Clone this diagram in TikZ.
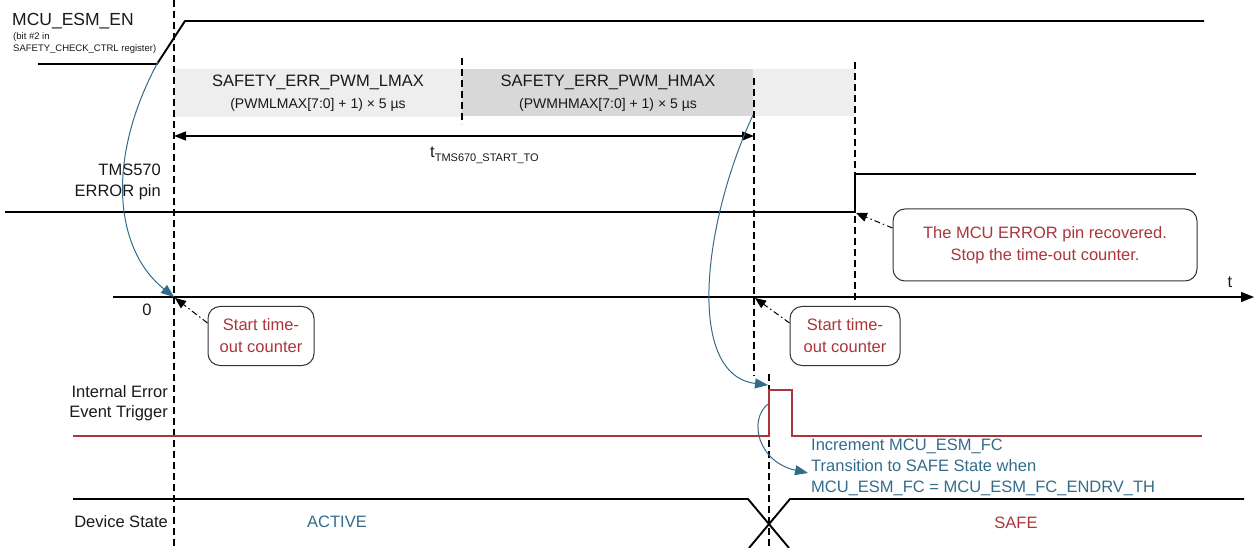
\documentclass[tikz,border=0pt]{standalone}
\usepackage{fontspec}
\setmainfont{Liberation Sans}
\usetikzlibrary{arrows.meta,calc}
\definecolor{tiblue}{RGB}{50,108,138}
\definecolor{tired}{RGB}{172,52,58}
\definecolor{lgray}{RGB}{238,238,238}
\definecolor{dgray}{RGB}{216,216,216}
\newcommand\myfs[2]{\fontsize{#1}{#2}\selectfont}
\begin{document}
\begin{tikzpicture}[x=1pt,y=-1pt,
  sig/.style={line width=1.9pt, black},
  redsig/.style={line width=1.9pt, tired},
  guide/.style={line width=1.3pt, dash pattern=on 7pt off 4pt},
  lbl/.style={inner sep=0pt, font=\myfs{16.5}{21}, text=black!90},
  callout/.style={draw=black!80, line width=1pt, rounded corners=12pt, text=tired, align=center, font=\myfs{16.5}{22}, inner sep=0pt},
  pointer/.style={line width=1pt, dash pattern=on 6pt off 3pt on 1.5pt off 3pt, -{Triangle[length=11pt,width=9pt]}},
  bluearrow/.style={tiblue, line width=1pt, -{Triangle[length=13pt,width=10pt]}},
]
\useasboundingbox (0,0) rectangle (1254,548);

% gray duration bands
\fill[lgray] (174,69) rectangle (462,117);
\fill[dgray] (462,69) rectangle (753,116);
\fill[lgray] (753,69) rectangle (855,116);

% dashed guides
\draw[guide] (174,0) -- (174,548);
\draw[guide] (462,58) -- (462,124);
\draw[guide] (754,78) -- (754,376);
\draw[guide] (769,374) -- (769,548);
\draw[guide] (855,62) -- (855,303);

% MCU_ESM_EN signal
\coordinate (en0) at (38,64);
\coordinate (enA) at (157,64);
\coordinate (enB) at (185,21);
\coordinate (en1) at (1204,21);
\draw[sig, line join=round] (en0) -- (enA) -- (enB) -- (en1);
\node[lbl, anchor=west, font=\myfs{17.5}{21}] (enlbl) at (12,21) {MCU\_ESM\_EN};
\node[lbl, anchor=north west, align=left, font=\myfs{9.5}{12}] (enreg) at (13,32) {(bit \#2 in\\SAFETY\_CHECK\_CTRL register)};

% band labels
\node[lbl, font=\myfs{16.5}{21}] (lmax) at (318,82) {SAFETY\_ERR\_PWM\_LMAX};
\node[lbl, font=\myfs{14}{17}] (lmaxf) at (318,105) {(PWMLMAX[7:0] + 1) × 5 µs};
\node[lbl, font=\myfs{16.5}{21}] (hmax) at (608,82) {SAFETY\_ERR\_PWM\_HMAX};
\node[lbl, font=\myfs{14}{17}] (hmaxf) at (608,105) {(PWMHMAX[7:0] + 1) × 5 µs};

% timeout span
\coordinate (spanL) at (174,136);
\coordinate (spanR) at (754,136);
\draw[line width=1.3pt, {Triangle[length=12pt,width=9pt]}-{Triangle[length=12pt,width=9pt]}] (spanL) -- (spanR);
\node[lbl, anchor=base west] (tto) at (430,158) {t\raisebox{-4pt}{\myfs{11}{12}TMS670\_START\_TO}};

% ERROR pin
\node[lbl, anchor=east, align=right] (errlbl) at (161,182) {TMS570\\ERROR pin};
\coordinate (er0) at (5,212);
\coordinate (erA) at (855,212);
\coordinate (erB) at (855,174);
\coordinate (er1) at (1196,174);
\draw[sig] (er0) -- (erA) -- (erB) -- (er1);

% time axis
\coordinate (ax0) at (113,297);
\coordinate (ax1) at (1254,297);
\coordinate (z0) at (174,297);
\draw[line width=1.3pt, -{Triangle[length=13pt,width=10pt]}] (ax0) -- (ax1);
\node[lbl] (tlbl) at (1230,282) {t};
\node[lbl] (zlbl) at (147,310) {0};

% callouts
\node[callout, minimum width=106pt, minimum height=59pt] (sb1) at (261,336) {Start time-\\out counter};
\node[callout, minimum width=110pt, minimum height=59pt] (sb2) at (845,336) {Start time-\\out counter};
\node[callout, minimum width=304pt, minimum height=72pt] (rec) at (1045,245) {The MCU ERROR pin recovered.\\Stop the time-out counter.};
\coordinate (p1) at (175,298);
\coordinate (p2) at (755,298);
\coordinate (p3) at (856,213);
\draw[pointer] ([yshift=13pt]sb1.west) -- (p1);
\draw[pointer] ([yshift=13pt]sb2.west) -- (p2);
\draw[pointer] ([yshift=17pt]rec.west) -- (p3);

% internal error event trigger
\node[lbl, anchor=east, align=right, font=\myfs{16.5}{20}] (ielbl) at (168,403) {Internal Error\\Event Trigger};
\coordinate (rd0) at (73,436);
\coordinate (rdA) at (769,436);
\coordinate (rdB) at (769,390);
\coordinate (rdC) at (792,390);
\coordinate (rdD) at (792,436);
\coordinate (rd1) at (1202,436);
\draw[redsig] (rd0) -- (rdA) -- (rdB) -- (rdC) -- (rdD) -- (rd1);

% device state
\node[lbl, anchor=east] (dslbl) at (168,522) {Device State};
\coordinate (ds0) at (73,499);
\coordinate (dsA) at (748,499);
\coordinate (dsB) at (789,548);
\coordinate (dsC) at (749,548);
\coordinate (dsD) at (790,499);
\coordinate (ds1) at (1244,499);
\draw[sig] (ds0) -- (dsA) -- (dsB);
\draw[sig] (dsC) -- (dsD) -- (ds1);
\node[lbl, text=tiblue] (active) at (337,522) {ACTIVE};
\node[lbl, text=tired] (safe) at (1016,523) {SAFE};
\node[lbl, anchor=west, align=left, text=tiblue, font=\myfs{16.5}{21}] (incr) at (811,467) {Increment MCU\_ESM\_FC\\Transition to SAFE State when\\MCU\_ESM\_FC = MCU\_ESM\_FC\_ENDRV\_TH};

% blue cause arrows
\coordinate (b1s) at (158,62);
\coordinate (b2s) at (753,115);
\coordinate (b2e) at (768,385);
\coordinate (b3s) at (768,404);
\coordinate (b3e) at (808,473);
\draw[bluearrow] (b1s) .. controls (105,160) and (115,250) .. (z0);
\draw[bluearrow] (b2s) .. controls (702,225) and (686,375) .. (b2e);
\draw[bluearrow] (b3s) .. controls (748,420) and (758,462) .. (b3e);
\end{tikzpicture}
\end{document}
